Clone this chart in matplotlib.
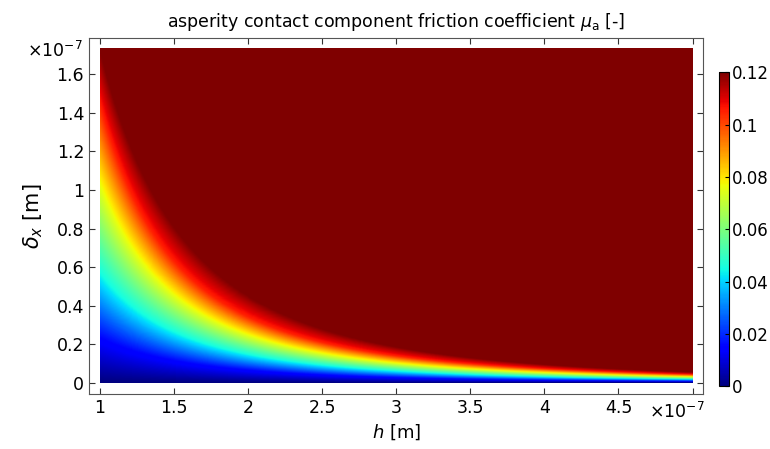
import numpy as np
import matplotlib
matplotlib.use("Agg")
import matplotlib.pyplot as plt

plt.rcParams['font.family'] = ['DejaVu Sans']
plt.rcParams['mathtext.fontset'] = 'custom'
plt.rcParams['mathtext.rm'] = 'DejaVu Sans'
plt.rcParams['mathtext.it'] = 'DejaVu Sans:italic'

# values (lengths in units of 1e-7 m)
h_pts = [1.0, 1.5, 2.0, 2.5, 3.0, 4.0, 5.0]
mu_levels = [0.0, 0.015, 0.045, 0.075, 0.105, 0.12]
# delta_x where mu reaches each level (one row per h)
d_at_h1 = [0, 0.22, 0.53, 0.96, 1.38, 1.64]
d_at_h15 = [0, 0.12, 0.29, 0.48, 0.67, 0.88]
d_at_h2 = [0, 0.07, 0.16, 0.26, 0.35, 0.44]
d_at_h25 = [0, 0.035, 0.085, 0.14, 0.20, 0.28]
d_at_h3 = [0, 0.028, 0.057, 0.10, 0.145, 0.19]
d_at_h4 = [0, 0.012, 0.028, 0.045, 0.062, 0.08]
d_at_h5 = [0, 0.008, 0.02, 0.033, 0.047, 0.06]
d_max = 1.735

x_ticks = [1, 1.5, 2, 2.5, 3, 3.5, 4, 4.5, 5]
y_ticks = [0, 0.2, 0.4, 0.6, 0.8, 1, 1.2, 1.4, 1.6]
cb_ticks = [0, 0.02, 0.04, 0.06, 0.08, 0.1, 0.12]

table = np.array([d_at_h1, d_at_h15, d_at_h2, d_at_h25, d_at_h3, d_at_h4, d_at_h5])

# smooth each read-off contour with a quadratic in log-log space
hh = np.linspace(1, 5, 500)
dd = np.linspace(0, d_max, 500)
curves = [np.zeros_like(hh)]
for k in range(1, len(mu_levels)):
    c = np.polyfit(np.log(h_pts), np.log(table[:, k]), 2)
    curves.append(np.exp(np.polyval(c, np.log(hh))))
curves = np.array(curves)

Z = np.zeros((len(dd), len(hh)))
for j in range(len(hh)):
    Z[:, j] = np.interp(dd, curves[:, j], mu_levels, right=mu_levels[-1])

fig = plt.figure(figsize=(7.7, 4.49), dpi=100)
ax = fig.add_axes([0.1156, 0.1225, 0.798, 0.793])
im = ax.imshow(Z, extent=[1, 5, 0, d_max], origin='lower', aspect='auto',
               cmap='jet', vmin=0, vmax=0.12, interpolation='bilinear')
ax.set_xlim(0.926, 5.074)
ax.set_ylim(-0.057, 1.788)

ax.set_xticks(x_ticks)
ax.set_xticklabels(['%g' % t for t in x_ticks[:-1]] + [''])
ax.set_yticks(y_ticks)
ax.set_yticklabels(['%g' % t for t in y_ticks])
ax.tick_params(direction='in', top=True, right=True, labelsize=12.5, length=4,
               color='#333333')
for s in ax.spines.values():
    s.set_color('#555555')

ax.text(5.085, -0.1, r'$\times10^{-7}$', fontsize=12.5, ha='right', va='top')
ax.text(0.88, 1.72, r'$\times10^{-7}$', fontsize=12.5, ha='right', va='center')

ax.set_xlabel(r'$h$ [m]', fontsize=13, labelpad=4)
ax.set_ylabel(r'$\delta_x$ [m]', fontsize=15, labelpad=8)
ax.set_title(r'asperity contact component friction coefficient $\mu_\mathrm{a}$ [-]',
             fontsize=12.5, pad=8)

cax = fig.add_axes([0.934, 0.140, 0.013, 0.699])
cb = fig.colorbar(im, cax=cax, ticks=cb_ticks)
cb.ax.set_yticklabels(['%g' % t for t in cb_ticks])
cb.ax.tick_params(labelsize=12, direction='in', length=3, pad=2)

fig.savefig('out.png', dpi=100)
